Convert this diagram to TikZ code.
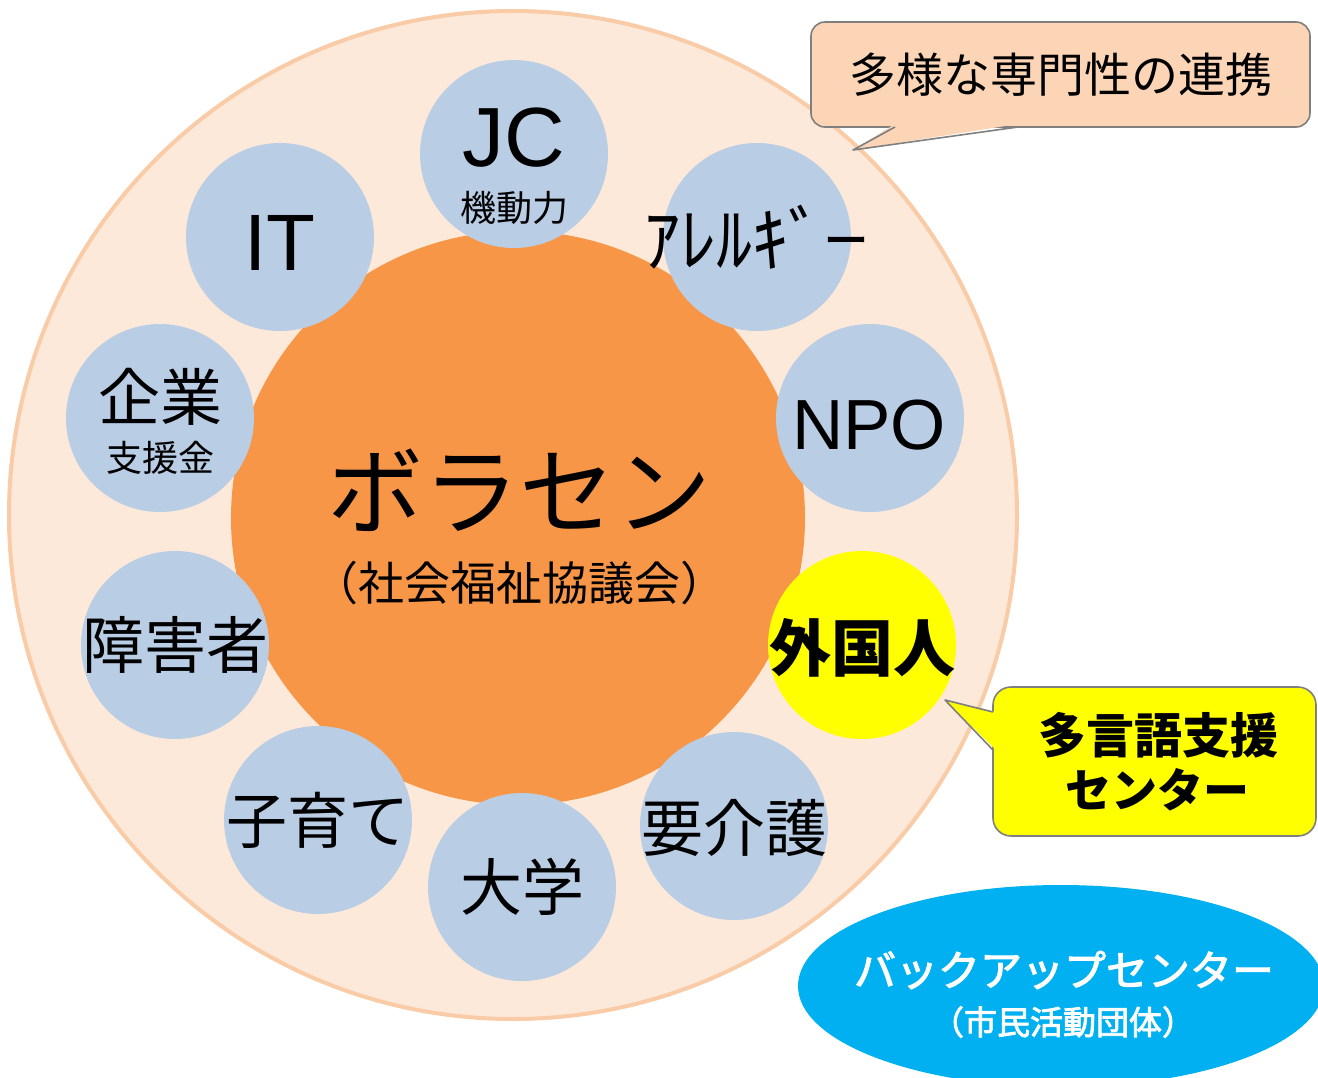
\documentclass[tikz,border=0pt]{standalone}
\usepackage{fontspec}
\setmainfont{Noto Sans CJK JP}
\newfontfamily\latinf{Liberation Sans}
\newfontfamily\medf[FakeBold=2.5]{Noto Sans CJK JP}
\usetikzlibrary{shapes.geometric}
\definecolor{ringfill}{HTML}{FDE9D9}
\definecolor{ringline}{HTML}{F9CBA6}
\definecolor{core}{HTML}{F79646}
\definecolor{bubble}{HTML}{B9CDE5}
\definecolor{peach}{HTML}{FBD5B5}
\definecolor{calloutline}{HTML}{7F7F7F}
\definecolor{yel}{HTML}{FFFF00}
\definecolor{sky}{HTML}{00B0F0}
\newcommand{\fs}[1]{\fontsize{#1}{#1}\selectfont}
\tikzset{
  bub/.style={circle, fill=bubble, minimum size=188pt, inner sep=0pt},
  lbl/.style={inner sep=0pt, text=black},
  cbox/.style={draw=calloutline, line width=1.6pt, rounded corners=14pt, inner sep=0pt},
}
\begin{document}
\begin{tikzpicture}[x=1pt,y=-1pt]
\useasboundingbox (0,0) rectangle (1318,1077);
% outer ring
\node[circle, fill=ringfill, draw=ringline, line width=4pt, minimum size=1008pt, inner sep=0pt] (ring) at (513,515) {};
% core
\node[circle, fill=core, minimum size=574pt, inner sep=0pt] (core) at (518,518) {};
\node[lbl] (t1) at (519,490) {\fs{96}ボラセン};
\node[lbl] (t2) at (519,583) {\fs{46}（社会福祉協議会）};
% bubbles
\node[bub] (jc) at (514,154) {};
\node[lbl] at (514,138) {\latinf\fs{84}JC};
\node[lbl] at (514,208) {\fs{36}機動力};
\node[bub] (al) at (757,237) {};
\node[lbl] at (756,237) {\fs{72}ｱﾚﾙｷﾞ\raisebox{10pt}{\medf\fs{44}ー}};
\node[bub] (it) at (280,237) {};
\node[lbl] at (280,243) {\latinf\fs{80}IT};
\node[bub] (kg) at (160,418) {};
\node[lbl] at (160,397) {\fs{62}企業};
\node[lbl] at (160,458) {\fs{36}支援金};
\node[bub] (npo) at (870,418) {};
\node[lbl] at (869,425) {\latinf\fs{71}NPO};
\node[circle, fill=yel, minimum size=188pt, inner sep=0pt] (gk) at (862,645) {};
\node[lbl] at (862,648) {\bfseries\fs{62}外国人};
\node[bub] (sg) at (175,645) {};
\node[lbl] at (175,645) {\fs{62}障害者};
\node[bub] (yk) at (734,826) {};
\node[lbl] at (734,828) {\fs{62}要介護};
\node[bub] (ks) at (318,820) {};
\node[lbl] at (318,820) {\fs{61}子育て};
\node[bub] (dg) at (522,887) {};
\node[lbl] at (522,887) {\fs{62}大学};
% callout 1
\node[cbox, fill=peach, minimum width=499pt, minimum height=105pt] (c1) at (1060.5,74.5) {\fs{47}多様な専門性の連携};
\fill[peach] (895,124) -- (853,150) -- (1018,124) -- cycle;
\draw[calloutline, line width=1.6pt, line join=round] (895,127) -- (853,150) -- (1018,127);
% callout 2
\node[cbox, fill=yel, minimum width=323pt, minimum height=149pt, rounded corners=18pt] (c2) at (1154.5,761.5) {};
\node[lbl] at (1158,735) {\bfseries\fs{48}多言語支援};
\node[lbl] at (1157,790) {\bfseries\fs{46}センター};
\fill[yel] (996,712) -- (945,700) -- (996,750) -- cycle;
\draw[calloutline, line width=1.6pt, line join=round] (993,712) -- (945,700) -- (993,750);
% backup ellipse
\node[ellipse, fill=sky, minimum width=526pt, minimum height=202pt, inner sep=0pt] (bk) at (1061,986) {};
\node[lbl, text=white] at (1064,970) {\medf\fs{42}バックアップセンター};
\node[lbl, text=white] at (1063,1022) {\medf\fs{33}（市民活動団体）};
\end{tikzpicture}
\end{document}
